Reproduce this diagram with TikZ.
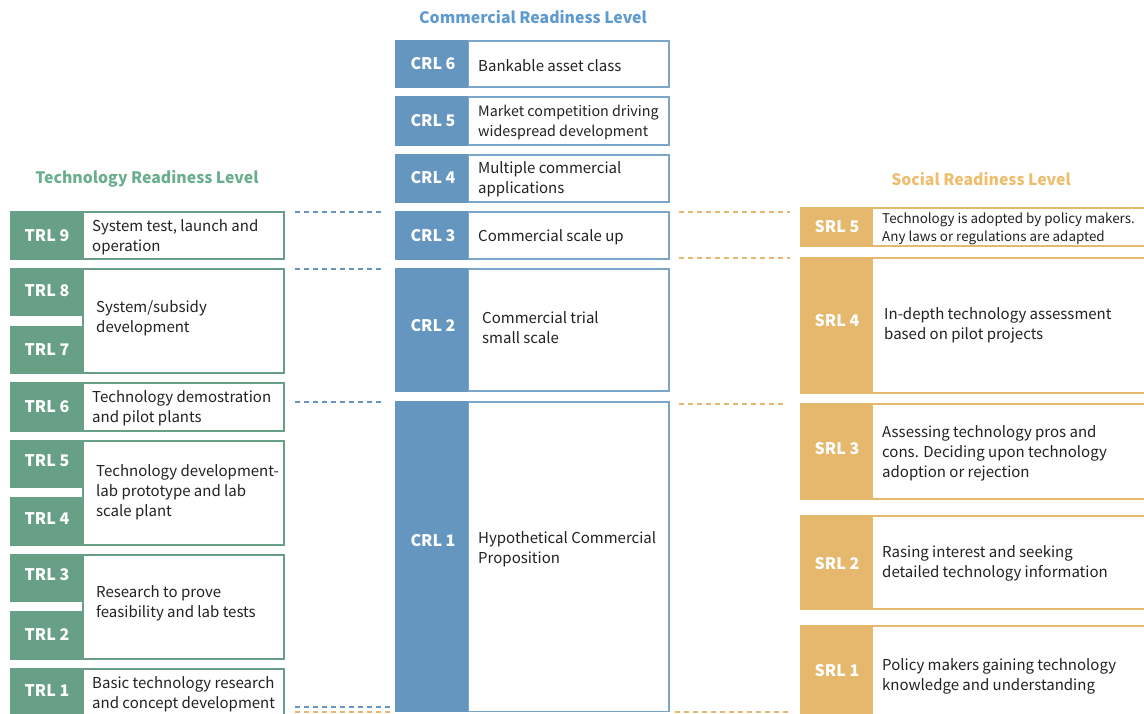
\documentclass[tikz,border=0pt]{standalone}
\usepackage{fontspec}
\setmainfont{Noto Sans CJK SC}
\definecolor{trl}{HTML}{67A087}
\definecolor{crl}{HTML}{6496C0}
\definecolor{srl}{HTML}{E5B86E}
\definecolor{trlh}{HTML}{6AAE8E}
\definecolor{crlh}{HTML}{5E9AD0}
\definecolor{srlh}{HTML}{EDBE6E}
\definecolor{txt}{HTML}{222222}
\tikzset{
  desc/.style={anchor=west, align=left, inner sep=0pt, yshift=-1.5pt, text=txt, font=\fontsize{15}{20}\selectfont},
  descn/.style={desc, font=\fontsize{14.3}{19.5}\selectfont},
  descs/.style={desc, font=\fontsize{13.4}{18}\selectfont},
  lab/.style={inner sep=0pt, text=white, font=\fontsize{16}{20}\selectfont\bfseries},
  hdr/.style={inner sep=0pt, font=\fontsize{15.8}{20}\selectfont\bfseries},
  tbox/.style={draw=trl, line width=1.6pt, fill=white},
  cbox/.style={draw=crl!85, line width=1.6pt, fill=white},
  sbox/.style={draw=srl, line width=1.6pt, fill=white},
  bdash/.style={draw=crl, line width=1.6pt, dash pattern=on 4.5pt off 4.5pt},
  odash/.style={draw=srl, line width=1.6pt, dash pattern=on 4.5pt off 4.5pt}
}
\begin{document}
\begin{tikzpicture}[x=1pt,y=-1pt]
\useasboundingbox (0,0) rectangle (1144,713);
\clip (0,0) rectangle (1144,713);
% headers
\node[hdr, text=crlh] (hc) at (533,17) {Commercial Readiness Level};
\node[hdr, text=trlh] (ht) at (147,179) {Technology Readiness Level};
\node[hdr, text=srlh] (hs) at (981,179) {Social Readiness Level};

% ---------- TRL column ----------
% TRL 9
\draw[tbox] (83,212) rectangle (284,259);
\fill[trl] (10.2,211.2) rectangle (83,259.8);
\node[lab] (t9) at (47,236) {TRL 9};
\node[desc] (d9) at (92,236) {System test, launch and\\operation};
% TRL 8/7
\draw[tbox] (83,269) rectangle (284,373);
\fill[trl] (10.2,268.2) rectangle (83,316);
\fill[trl] (10.2,326) rectangle (83,373.8);
\node[lab] (t8) at (47,291) {TRL 8};
\node[lab] (t7) at (47,350) {TRL 7};
\node[desc] (d87) at (96,317) {System/subsidy\\development};
% TRL 6
\draw[tbox] (83,383) rectangle (284,431);
\fill[trl] (10.2,382.2) rectangle (83,431.8);
\node[lab] (t6) at (47,407) {TRL 6};
\node[desc] (d6) at (92,407) {Technology demostration\\and pilot plants};
% TRL 5/4
\draw[tbox] (83,441) rectangle (284,545);
\fill[trl] (10.2,440.2) rectangle (83,488);
\fill[trl] (10.2,497) rectangle (83,545.8);
\node[lab] (t5) at (47,461) {TRL 5};
\node[lab] (t4) at (47,519) {TRL 4};
\node[desc] (d54) at (96,491) {Technology development-\\lab prototype and lab\\scale plant};
% TRL 3/2
\draw[tbox] (83,555) rectangle (284,659);
\fill[trl] (10.2,554.2) rectangle (83,602);
\fill[trl] (10.2,611) rectangle (83,659.8);
\node[lab] (t3) at (47,575) {TRL 3};
\node[lab] (t2) at (47,635) {TRL 2};
\node[desc] (d32) at (96,602) {Research to prove\\feasibility and lab tests};
% TRL 1
\draw[tbox] (83,669) rectangle (284,720);
\fill[trl] (10.2,668.2) rectangle (83,720);
\node[lab] (t1) at (47,691) {TRL 1};
\node[desc] (d1) at (92,693) {Basic technology research\\and concept development};

% ---------- CRL column ----------
\draw[cbox] (468,41) rectangle (669,87);
\fill[crl] (395.2,40.2) rectangle (468,87.8);
\node[lab] (c6) at (433,64) {CRL 6};
\node[desc] (e6) at (478,64) {Bankable asset class};

\draw[cbox] (468,97) rectangle (669,145);
\fill[crl] (395.2,96.2) rectangle (468,145.8);
\node[lab] (c5) at (433,121) {CRL 5};
\node[descn] (e5) at (478,121) {Market competition driving\\widespread development};

\draw[cbox] (468,155) rectangle (669,202);
\fill[crl] (395.2,154.2) rectangle (468,202.8);
\node[lab] (c4) at (433,178) {CRL 4};
\node[desc] (e4) at (478,178) {Multiple commercial\\applications};

\draw[cbox] (468,212) rectangle (669,259);
\fill[crl] (395.2,211.2) rectangle (468,259.8);
\node[lab] (c3) at (433,236) {CRL 3};
\node[desc] (e3) at (478,236) {Commercial scale up};

\draw[cbox] (468,269) rectangle (669,391);
\fill[crl] (395.2,268.2) rectangle (468,391.8);
\node[lab] (c2) at (433,326) {CRL 2};
\node[desc] (e2) at (482,326) {Commercial trial\\small scale};

\draw[cbox] (468,402) rectangle (669,711.5);
\fill[crl] (395.2,401.2) rectangle (468,712.3);
\node[lab] (c1) at (433,541) {CRL 1};
\node[desc] (e1) at (478,548) {Hypothetical Commercial\\Proposition};

% ---------- SRL column ----------
\draw[sbox] (872,208) rectangle (1170,246);
\fill[srl] (800,207.2) rectangle (872,246.8);
\node[lab] (s5) at (837,227) {SRL 5};
\node[descs] (f5) at (882,227) {Technology is adopted by policy makers.\\Any laws or regulations are adapted};

\draw[sbox] (872,258) rectangle (1170,393);
\fill[srl] (800,257.2) rectangle (872,393.8);
\node[lab] (s4) at (837,321) {SRL 4};
\node[desc] (f4) at (884,324) {In-depth technology assessment\\based on pilot projects};

\draw[sbox] (872,404) rectangle (1170,499);
\fill[srl] (800,403.2) rectangle (872,499.8);
\node[lab] (s3) at (837,449) {SRL 3};
\node[desc] (f3) at (882,452) {Assessing technology pros and\\cons. Deciding upon technology\\adoption or rejection};

\draw[sbox] (872,516) rectangle (1170,609);
\fill[srl] (800,515.2) rectangle (872,609.8);
\node[lab] (s2) at (837,564) {SRL 2};
\node[desc] (f2) at (882,562) {Rasing interest and seeking\\detailed technology information};

\draw[sbox] (872,626) rectangle (1170,730);
\fill[srl] (800,625.2) rectangle (872,730);
\node[lab] (s1) at (837,671) {SRL 1};
\node[desc] (f1) at (882,675) {Policy makers gaining technology\\knowledge and understanding};

% ---------- dashed level separators ----------
\coordinate (l1a) at (295,212); \coordinate (l1b) at (384,212);
\coordinate (l2a) at (295,269); \coordinate (l2b) at (384,269);
\coordinate (l3a) at (295,402); \coordinate (l3b) at (384,402);
\coordinate (l4a) at (295,707); \coordinate (l4b) at (390,707);
\coordinate (l5a) at (295,712); \coordinate (l5b) at (390,712);
\draw[bdash] (l1a) -- (l1b);
\draw[bdash] (l2a) -- (l2b);
\draw[bdash] (l3a) -- (l3b);
\draw[bdash] (l4a) -- (l4b);
\draw[odash] (l5a) -- (l5b);
\coordinate (r1a) at (679,212); \coordinate (r1b) at (790,212);
\coordinate (r2a) at (679,258); \coordinate (r2b) at (790,258);
\coordinate (r3a) at (679,404); \coordinate (r3b) at (786,404);
\coordinate (r4a) at (675,712); \coordinate (r4b) at (790,712);
\draw[odash] (r1a) -- (r1b);
\draw[odash] (r2a) -- (r2b);
\draw[odash] (r3a) -- (r3b);
\draw[odash] (r4a) -- (r4b);
\end{tikzpicture}
\end{document}
